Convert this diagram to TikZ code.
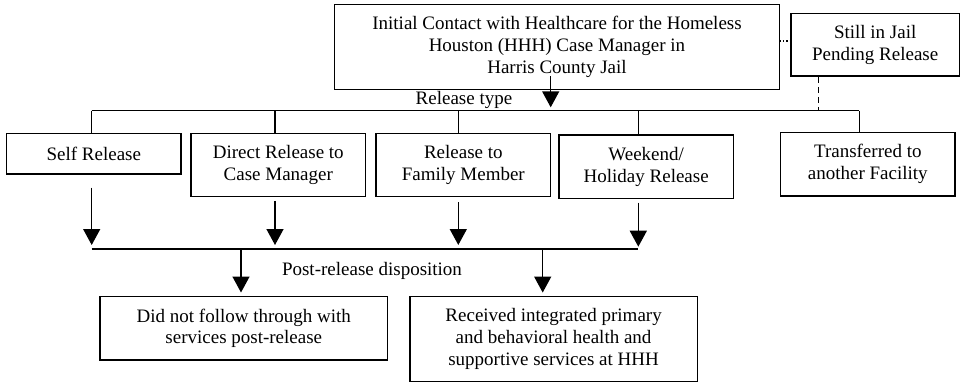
\documentclass[tikz,border=0pt]{standalone}
\usepackage{fontspec}
\setmainfont{Liberation Serif}
\usetikzlibrary{arrows.meta,calc}
\begin{document}
\begin{tikzpicture}[x=1pt,y=-1pt,
  line width=1.5pt,
  box/.style={draw,line width=1.5pt,inner sep=0pt,align=center,
    font=\fontsize{19}{21.7}\selectfont},
  lbl/.style={inner sep=0pt,anchor=base,font=\fontsize{19}{21.7}\selectfont},
  arr/.style={-{Triangle[width=17pt,length=16pt]}},
  ]
\useasboundingbox (0,0) rectangle (962,383);
% boxes
\node[box,minimum width=444.6pt,minimum height=84.6pt] (top) at (557,47)
  {Initial Contact with Healthcare for the Homeless\\Houston (HHH) Case Manager in\\Harris County Jail};
\node[box,minimum width=168.5pt,minimum height=62.7pt] (jail) at (875.2,44.7)
  {Still in Jail\\Pending Release};
\node[box,minimum width=174.3pt,minimum height=40.7pt] (self) at (93.8,153.7)
  {Self Release};
\node[box,minimum width=174.7pt,minimum height=63.4pt] (direct) at (278.3,165)
  {Direct Release to\\Case Manager};
\node[box,minimum width=174.7pt,minimum height=63.4pt] (family) at (463.3,165)
  {Release to\\Family Member};
\node[box,minimum width=174.3pt,minimum height=63.3pt] (weekend) at (646.2,166.7)
  {Weekend/\\Holiday Release};
\node[box,minimum width=174.3pt,minimum height=63.7pt] (transfer) at (867.8,164.2)
  {Transferred to\\another Facility};
\node[box,minimum width=287.7pt,minimum height=63.3pt] (didnot) at (243.8,328.3)
  {Did not follow through with\\services post-release};
\node[box,minimum width=287.3pt,minimum height=84.8pt] (received) at (553.6,339.1)
  {Received integrated primary\\and behavioral health and\\supportive services at HHH};
% labels
\node[lbl] (reltype) at (464,104) {Release type};
\node[lbl] (postrel) at (372,275) {Post-release disposition};
% bus coordinates
\coordinate (t0) at (550.7,76);
\coordinate (busA) at (91.7,110.7);
\coordinate (busB) at (859.3,110.7);
\coordinate (d1) at (91.7,249);
\coordinate (d2) at (275,249);
\coordinate (d3) at (458.3,249);
\coordinate (d4) at (638.3,249);
\coordinate (p1) at (241,249);
\coordinate (p2) at (542.7,249);
\coordinate (dash) at (818.3,110.7);
% top arrow
\draw[arr] (t0) -- (550.7,107.3);
% release bus
\draw (busA) -- (busB);
\draw (busA) -- (busA |- self.north);
\draw (d2 |- busA) -- (d2 |- direct.north);
\draw (d3 |- busA) -- (d3 |- family.north);
\draw (d4 |- busA) -- (d4 |- weekend.north);
\draw (busB) -- (busB |- transfer.north);
% still in jail connectors
\draw[dotted,line width=1.2pt] (top.east |- 0,41) -- (jail.west |- 0,41);
\draw[dashed,dash pattern=on 6pt off 4pt] (dash |- jail.south) -- (dash);
% arrows to post bus
\draw[arr] ([yshift=-12.7pt]d1 |- self.south) -- ([yshift=4pt]d1);
\draw[arr] ([yshift=-3.3pt]d2 |- direct.south) -- ([yshift=4pt]d2);
\draw[arr] ([yshift=-5pt]d3 |- family.south) -- ([yshift=4pt]d3);
\draw[arr] ([yshift=-3.4pt]d4 |- weekend.south) -- ([yshift=2.3pt]d4);
\draw (d1) -- (d4);
% post-release arrows
\draw[arr] (p1) -- ([yshift=3.4pt]p1 |- didnot.north);
\draw[arr] (p2) -- ([yshift=3.4pt]p2 |- received.north);
\end{tikzpicture}
\end{document}
